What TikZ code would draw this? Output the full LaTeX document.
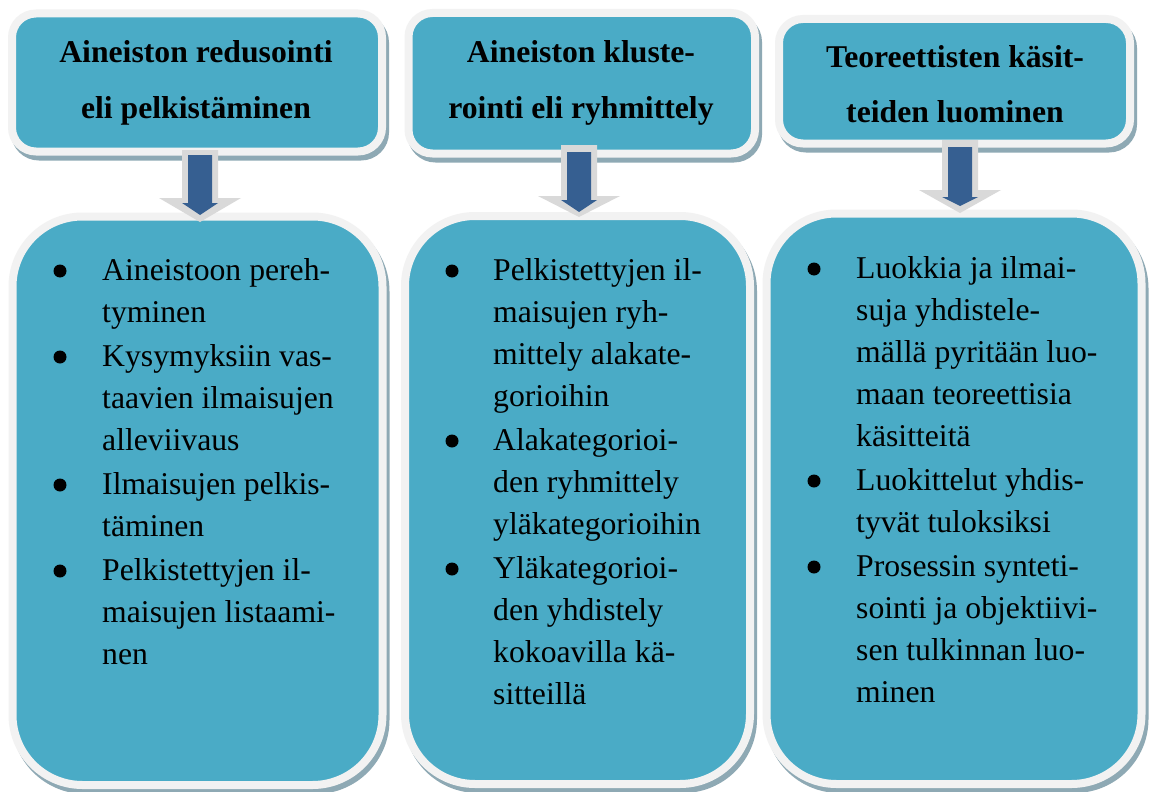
\documentclass[tikz,border=0pt]{standalone}
\usepackage{fontspec}
\setmainfont{Liberation Serif}
\definecolor{teal5}{HTML}{4AABC6}
\definecolor{rim}{HTML}{F2F2F2}
\definecolor{shade}{HTML}{8EA9B4}
\definecolor{arrowdark}{HTML}{365F91}
\definecolor{arrowlight}{HTML}{D9D9D9}
\tikzset{
  panelshadow/.style={fill=shade,draw=shade,line width=8pt},
  panelbody/.style={fill=teal5,draw=rim,line width=8pt},
  headtext/.style={font=\fontsize{31.7}{38}\selectfont\bfseries,inner sep=0pt,anchor=base},
  itemtext/.style={font=\fontsize{31.7}{38}\selectfont,inner sep=0pt,anchor=base west},
  bulletdot/.style={fill=black},
  graytip/.style={fill=arrowlight},
  darktip/.style={fill=arrowdark},
}
\newcommand\mypanel[5]{%
  \path[panelshadow,rounded corners=#5] (#1+3,#2+5) rectangle (#3+3,#4+5);
  \path[panelbody,rounded corners=#5] (#1,#2) rectangle (#3,#4);
}
% cx, gray top, gray base, gray tip, dark top, dark base, dark tip
\newcommand\myarrow[7]{%
  \fill[graytip] (#1-18,#2) -- (#1+18,#2) -- (#1+18,#3) -- (#1+41,#3) -- (#1,#4) -- (#1-41,#3) -- (#1-18,#3) -- cycle;
  \fill[darktip] (#1-12,#5) -- (#1+12,#5) -- (#1+12,#6) -- (#1+18,#6) -- (#1,#7) -- (#1-18,#6) -- (#1-12,#6) -- cycle;
}
\begin{document}
\begin{tikzpicture}[x=1pt,y=-1pt]
\useasboundingbox (0,0) rectangle (1149,792);
\fill[white] (0,0) rectangle (1149,792);
% header panels
\mypanel{12}{13.5}{382}{151.5}{24}
\mypanel{408.5}{13}{755}{153.5}{24}
\mypanel{779}{19}{1130}{143.5}{24}
% lower panels
\mypanel{12.5}{216.5}{382.5}{785}{70}
\mypanel{405}{216}{750}{784}{70}
\mypanel{766.5}{213.5}{1141.5}{784}{70}
% arrows
\myarrow{200}{150}{198}{222}{155}{203}{215}
\myarrow{579}{145}{196}{217}{152}{200}{212}
\myarrow{960}{140}{190}{213}{147}{197}{206}
% header texts
\node[headtext] (h1a) at (196,63) {Aineiston redusointi};
\node[headtext] (h1b) at (196,118) {eli pelkistäminen};
\node[headtext] (h2a) at (581,63) {Aineiston kluste-};
\node[headtext] (h2b) at (581,118) {rointi eli ryhmittely};
\node[headtext] (h3a) at (955,68) {Teoreettisten käsit-};
\node[headtext] (h3b) at (955,122) {teiden luominen};
% column 1
\foreach \y in {280,366,494,580} \fill[bulletdot] (60,\y-9) circle (6.5);
\foreach \y/\t [count=\i] in {280/Aineistoon pereh-,322/tyminen,366/Kysymyksiin vas-,408/taavien ilmaisujen,450/alleviivaus,494/Ilmaisujen pelkis-,536/täminen,580/Pelkistettyjen il-,622/maisujen listaami-,664/nen}
  \node[itemtext] (a\i) at (102,\y) {\t};
% column 2
\foreach \y in {280,450,578} \fill[bulletdot] (452,\y-9) circle (6.5);
\foreach \y/\t [count=\i] in {280/Pelkistettyjen il-,322/maisujen ryh-,364/mittely alakate-,406/gorioihin,450/Alakategorioi-,492/den ryhmittely,534/yläkategorioihin,578/Yläkategorioi-,620/den yhdistely,662/kokoavilla kä-,704/sitteillä}
  \node[itemtext] (b\i) at (493,\y) {\t};
% column 3
\foreach \y in {278,490,576} \fill[bulletdot] (814,\y-9) circle (6.5);
\foreach \y/\t [count=\i] in {278/Luokkia ja ilmai-,320/suja yhdistele-,362/mällä pyritään luo-,404/maan teoreettisia,446/käsitteitä,490/Luokittelut yhdis-,532/tyvät tuloksiksi,576/Prosessin synteti-,618/sointi ja objektiivi-,660/sen tulkinnan luo-,702/minen}
  \node[itemtext] (c\i) at (856,\y) {\t};
\end{tikzpicture}
\end{document}
